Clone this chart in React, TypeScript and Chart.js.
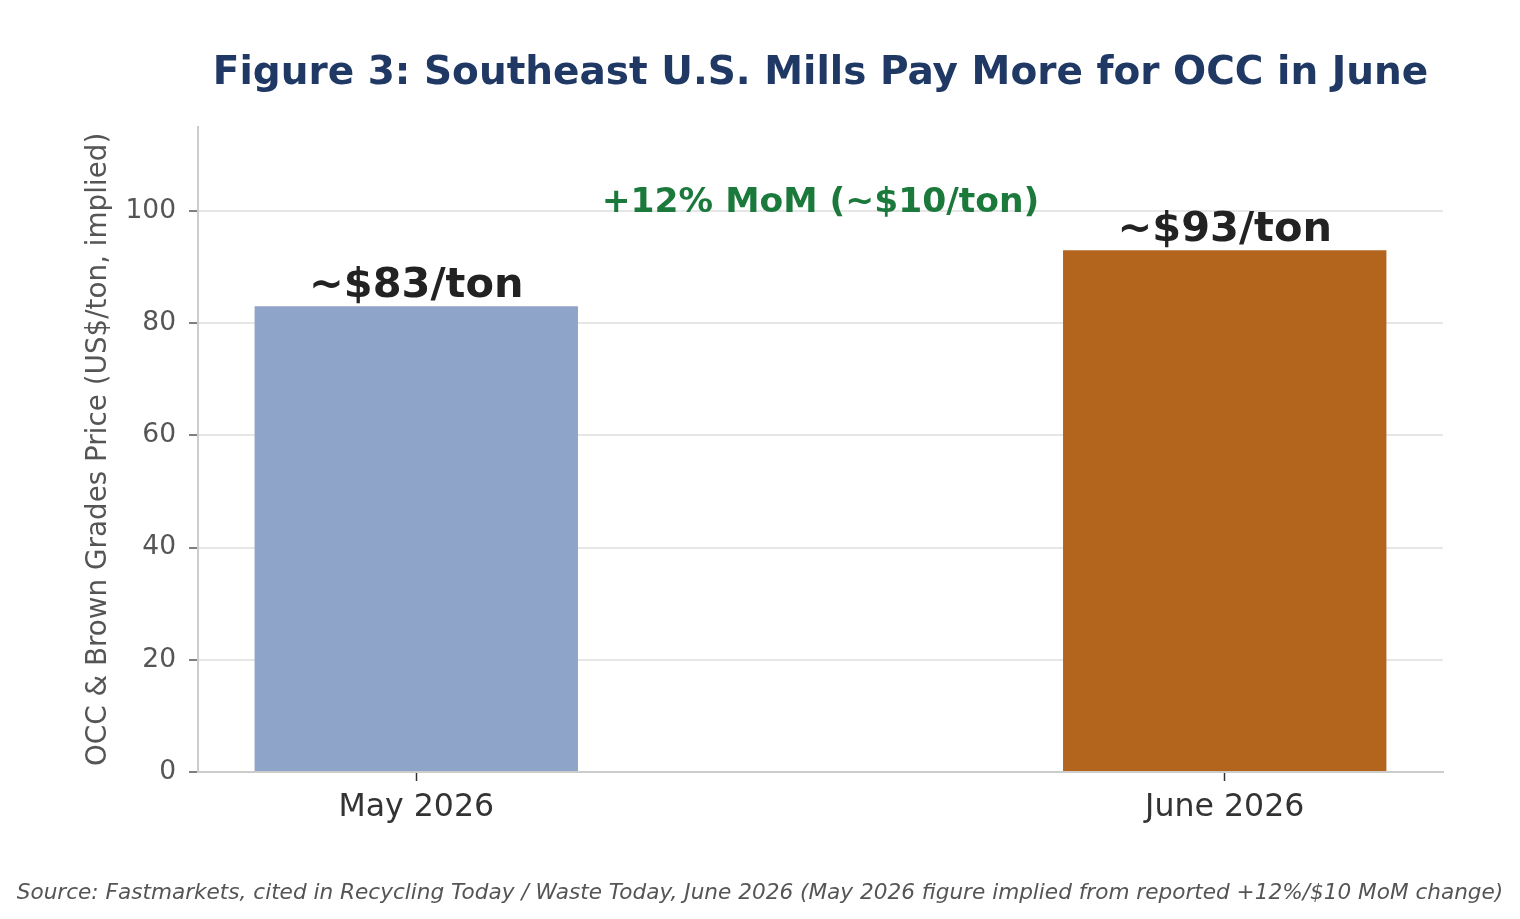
import { useEffect, useRef } from "react";
import { Chart, registerables } from "chart.js";

Chart.register(...registerables);

const CATEGORIES = ["May 2026", "June 2026"];
const PRICES = [83, 93];
const BAR_COLORS = ["#8fa4c9", "#b3651e"];
const Y_TICKS = [0, 20, 40, 60, 80, 100];

const TITLE = "Figure 3: Southeast U.S. Mills Pay More for OCC in June";
const Y_TITLE = "OCC & Brown Grades Price (US$/ton, implied)";
const SOURCE =
  "Source: Fastmarkets, cited in Recycling Today / Waste Today, June 2026 (May 2026 figure implied from reported +12%/$10 MoM change)";

const FONT = "'DejaVu Sans', sans-serif";

// value labels + the MoM note, drawn on top of the bars
const labelsPlugin = {
  id: "valueLabels",
  afterDatasetsDraw(chart: any) {
    const { ctx, scales } = chart;
    const meta = chart.getDatasetMeta(0);
    ctx.save();
    ctx.textAlign = "center";
    ctx.textBaseline = "alphabetic";
    ctx.fillStyle = "#222222";
    ctx.font = `bold 41.5px ${FONT}`;
    meta.data.forEach((bar: any, i: number) => {
      ctx.fillText(`~$${PRICES[i]}/ton`, bar.x, bar.y - 9);
    });

    const diff = PRICES[1] - PRICES[0];
    const pct = Math.round((diff / PRICES[0]) * 100);
    ctx.fillStyle = "#1b7a3b";
    ctx.font = `bold 34.5px ${FONT}`;
    ctx.fillText(
      `+${pct}% MoM (~$${diff}/ton)`,
      scales.x.getPixelForValue(0.5),
      scales.y.getPixelForValue(100) + 1
    );
    ctx.restore();
  },
};

// source line, centred on the whole canvas (subtitle would squeeze it)
const sourcePlugin = {
  id: "sourceNote",
  afterDraw(chart: any) {
    const { ctx, width, height } = chart;
    ctx.save();
    ctx.textAlign = "center";
    ctx.textBaseline = "middle";
    ctx.fillStyle = "#555555";
    ctx.font = `italic 21.6px ${FONT}`;
    ctx.fillText(SOURCE, width / 2, height - 26);
    ctx.restore();
  },
};

export default function App() {
  const canvasRef = useRef<HTMLCanvasElement>(null);
  const chartRef = useRef<Chart | null>(null);

  useEffect(() => {
    if (!canvasRef.current) return;
    document.body.style.margin = "0";
    if (chartRef.current) chartRef.current.destroy();

    chartRef.current = new Chart(canvasRef.current, {
      type: "bar",
      data: {
        datasets: [
          {
            data: PRICES.map((v, i) => ({ x: i, y: v })),
            backgroundColor: BAR_COLORS,
            barPercentage: 0.4,
            categoryPercentage: 1.0,
          },
        ],
      },
      options: {
        animation: false,
        responsive: true,
        maintainAspectRatio: false,
        layout: { padding: { left: 0, right: 77, top: 0, bottom: 39 } },
        scales: {
          x: {
            type: "linear",
            min: -0.27,
            max: 1.27,
            offset: false,
            afterBuildTicks: (s: any) => {
              s.ticks = CATEGORIES.map((_, i) => ({ value: i }));
            },
            afterFit: (s: any) => {
              s.height = 108;
            },
            grid: {
              offset: false,
              drawOnChartArea: false,
              tickColor: "#333333",
              tickLength: 9,
              tickWidth: 1.5,
            },
            border: { color: "#cccccc", width: 2 },
            ticks: {
              color: "#333333",
              font: { family: FONT, size: 31.6 },
              padding: 8,
              maxRotation: 0,
              callback: (v: any) => CATEGORIES[v] ?? "",
            },
          },
          y: {
            min: 0,
            max: 115,
            afterBuildTicks: (s: any) => {
              s.ticks = Y_TICKS.map((v) => ({ value: v }));
            },
            afterFit: (s: any) => {
              s.width = 198;
            },
            grid: {
              color: "#e6e6e6",
              lineWidth: 2,
              tickColor: "#555555",
              tickLength: 9,
              tickWidth: 1.5,
            },
            border: { color: "#cccccc", width: 2 },
            ticks: {
              color: "#555555",
              font: { family: FONT, size: 26.5 },
              padding: 13,
            },
            title: {
              display: true,
              text: Y_TITLE,
              color: "#555555",
              font: { family: FONT, size: 27.8 },
              padding: { top: 82, bottom: 0 },
            },
          },
        },
        plugins: {
          legend: { display: false },
          tooltip: { enabled: false },
          title: {
            display: true,
            text: TITLE,
            fullSize: false,
            color: "#1f3864",
            font: { family: FONT, size: 39, weight: "bold" },
            padding: { top: 50, bottom: 30 },
          },
        },
      } as any,
      plugins: [labelsPlugin, sourcePlugin],
    });

    return () => {
      chartRef.current?.destroy();
    };
  }, []);

  return (
    <div style={{ position: "absolute", left: 0, top: 0, width: 1520, height: 919 }}>
      <canvas ref={canvasRef} />
    </div>
  );
}
